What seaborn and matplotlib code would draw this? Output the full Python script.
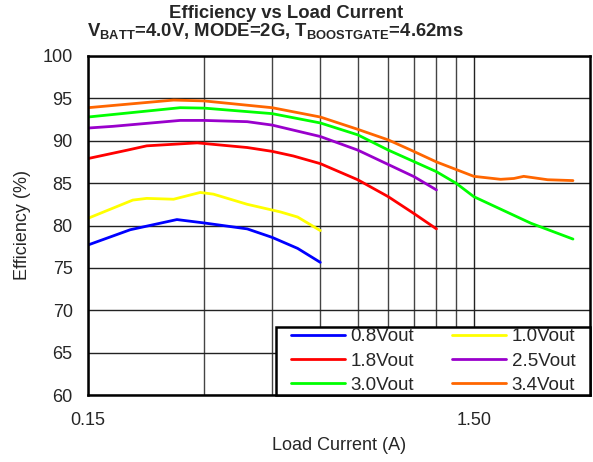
import numpy as np
import pandas as pd
import matplotlib
matplotlib.use("Agg")
import matplotlib.pyplot as plt
from matplotlib.patches import Rectangle
import seaborn as sns

# values
x_08 = [0.15, 0.193, 0.255, 0.30, 0.388, 0.45, 0.524, 0.60]
y_08 = [77.7, 79.5, 80.7, 80.3, 79.6, 78.6, 77.3, 75.65]

x_10 = [0.15, 0.196, 0.213, 0.25, 0.293, 0.317, 0.388, 0.473, 0.524, 0.60]
y_10 = [80.85, 83.0, 83.2, 83.1, 83.9, 83.7, 82.5, 81.6, 81.0, 79.4]

x_18 = [0.15, 0.19, 0.213, 0.288, 0.388, 0.45, 0.511, 0.60, 0.75, 0.90, 1.05, 1.2]
y_18 = [87.9, 88.9, 89.4, 89.75, 89.2, 88.75, 88.2, 87.3, 85.4, 83.4, 81.4, 79.6]

x_25 = [0.15, 0.174, 0.26, 0.30, 0.388, 0.45, 0.60, 0.75, 1.05, 1.2]
y_25 = [91.5, 91.7, 92.4, 92.4, 92.25, 91.85, 90.5, 88.9, 85.76, 84.2]

x_30 = [0.15, 0.26, 0.30, 0.45, 0.60, 0.75, 0.90, 1.2, 1.35, 1.5, 2.11, 2.71]
y_30 = [92.8, 93.9, 93.85, 93.2, 92.1, 90.7, 88.9, 86.35, 84.98, 83.4, 80.26, 78.4]

x_34 = [0.15, 0.25, 0.30, 0.45, 0.60, 0.75, 0.90, 1.03, 1.2, 1.5, 1.76, 1.905, 2.02, 2.33, 2.71]
y_34 = [93.9, 94.8, 94.7, 93.9, 92.8, 91.35, 90.1, 88.9, 87.5, 85.8, 85.45, 85.55, 85.8, 85.4, 85.3]

series = ["0.8Vout", "1.0Vout", "1.8Vout", "2.5Vout", "3.0Vout", "3.4Vout"]
colors = ["#0000FF", "#FFFF00", "#FF0000", "#9900CC", "#00FF00", "#FF6600"]

frames = []
for name, xs, ys in zip(series, [x_08, x_10, x_18, x_25, x_30, x_34],
                        [y_08, y_10, y_18, y_25, y_30, y_34]):
    frames.append(pd.DataFrame({"x": xs, "y": ys, "s": name}))
df = pd.concat(frames, ignore_index=True)

sns.set_style("white")
plt.rcParams["font.family"] = ["Liberation Sans", "DejaVu Sans"]
plt.rcParams["mathtext.fontset"] = "custom"
plt.rcParams["mathtext.rm"] = "Liberation Sans:bold"
plt.rcParams["mathtext.bf"] = "Liberation Sans:bold"

fig = plt.figure(figsize=(5.93, 4.62), dpi=100)
ax = fig.add_axes([88 / 593, 1 - 395 / 462, 502 / 593, 339 / 462])

sns.lineplot(data=df, x="x", y="y", hue="s", palette=colors, hue_order=series,
             sort=False, estimator=None, linewidth=2, ax=ax)

ax.set_xscale("log")
ax.set_xlim(0.15, 3.0)
ax.set_ylim(60, 100)
ax.set_yticks(np.arange(60, 101, 5))
ax.set_xticks([0.15, 1.5])
ax.set_xticklabels(["0.15", "1.50"])
ax.set_xticks([0.15 * k for k in range(2, 10)], minor=True)
ax.xaxis.set_minor_formatter(matplotlib.ticker.NullFormatter())
ax.tick_params(axis="both", which="both", length=0, labelsize=13)
ax.tick_params(axis="y", pad=11)
ax.tick_params(axis="x", pad=12)
ax.grid(True, which="major", color="#222222", linewidth=1)
ax.grid(True, which="minor", axis="x", color="#444444", linewidth=1)
for sp in ax.spines.values():
    sp.set_color("black")
    sp.set_linewidth(1.8)

ax.set_xlabel("Load Current (A)", fontsize=13, labelpad=6)
ax.set_ylabel("Efficiency (%)", fontsize=13, labelpad=8)

# legend box
bx0, bh = (276 - 88) / 502, (395 - 327) / 339
ax.add_patch(Rectangle((bx0, 0), 1 - bx0, bh, transform=ax.transAxes,
                       facecolor="white", edgecolor="black", linewidth=1.8,
                       zorder=5, clip_on=False))

h, l = ax.get_legend_handles_labels()
order = [0, 2, 4, 1, 3, 5]
leg = ax.legend([h[i] for i in order], [l[i] for i in order], ncol=2,
                loc="center", bbox_to_anchor=(bx0 + (1 - bx0) / 2, bh / 2),
                fontsize=13.5, frameon=False, handlelength=2.9,
                handletextpad=0.3, columnspacing=2.0, labelspacing=0.38,
                borderpad=0)
leg.set_zorder(6)
for line in leg.get_lines():
    line.set_linewidth(2)

fig.text(286 / 593, 1 - 14 / 462, "Efficiency vs Load Current", ha="center",
         va="center", fontsize=13.3, fontweight="bold")
fig.text(275 / 593, 1 - 31 / 462,
         r"V$_{\mathrm{BATT}}$=4.0V, MODE=2G, T$_{\mathrm{BOOSTGATE}}$=4.62ms",
         ha="center", va="center", fontsize=13.3, fontweight="bold")

fig.savefig("out.png", dpi=100)
